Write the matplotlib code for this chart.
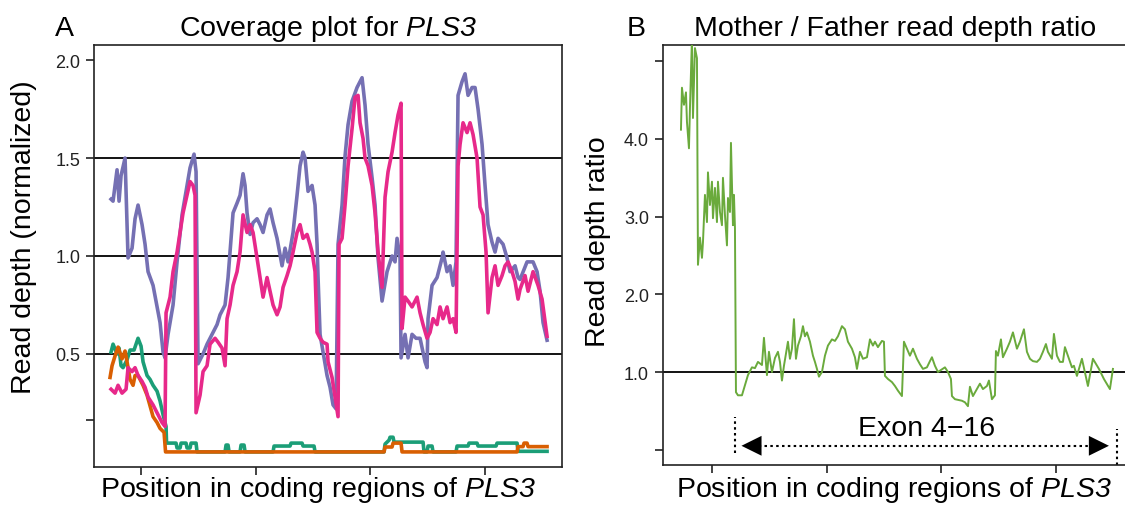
import matplotlib.pyplot as plt

plt.rcParams['font.family'] = ['Liberation Sans', 'DejaVu Sans']
plt.rcParams['mathtext.fontset'] = 'custom'
# math text is only used for the italic gene name, digits included
plt.rcParams['mathtext.rm'] = 'Liberation Sans:italic'
plt.rcParams['mathtext.it'] = 'Liberation Sans:italic'

# ---- panel A: normalized read depth, four samples ----
purple_x = [1, 3, 7, 9, 11, 15, 18, 22, 25, 28, 32, 35, 38, 43, 47, 50, 53, 55, 58, 63,
            67, 72, 77, 80, 84, 86, 88, 93, 97, 102, 107, 110, 115, 118, 123, 127, 130,
            133, 135, 137, 140, 143, 147, 150, 153, 157, 160, 163, 167, 172, 175, 178,
            183, 187, 190, 193, 195, 198, 202, 205, 207, 208, 210, 213, 217, 220, 223,
            226, 228, 232, 235, 238, 242, 247, 252, 255, 258, 262, 265, 268, 272, 277,
            282, 285, 287, 290, 291, 295, 298, 302, 306, 310, 315, 317, 318, 322, 327,
            332, 333, 337, 340, 343, 346, 348, 352, 355, 358, 362, 365, 368, 372, 375,
            378, 382, 385, 388, 393, 397, 400, 405, 408, 410, 417, 423, 427, 430, 433, 437]
purple_y = [1.29, 1.28, 1.44, 1.28, 1.41, 1.50, 0.99, 1.04, 1.19, 1.26, 1.16, 1.06, 0.92,
            0.85, 0.74, 0.66, 0.51, 0.48, 0.60, 0.75, 0.97, 1.21, 1.36, 1.45, 1.52, 1.43,
            0.45, 0.50, 0.55, 0.60, 0.65, 0.70, 0.75, 0.89, 1.22, 1.27, 1.31, 1.42, 1.36,
            1.22, 1.11, 1.17, 1.19, 1.16, 1.12, 1.21, 1.24, 1.17, 1.09, 0.95, 1.04, 0.97,
            1.12, 1.31, 1.46, 1.53, 1.50, 1.33, 1.36, 1.26, 1.06, 0.89, 0.60, 0.51, 0.39,
            0.33, 0.24, 0.22, 1.06, 1.26, 1.51, 1.67, 1.79, 1.86, 1.91, 1.77, 1.57, 1.40,
            1.26, 0.99, 0.77, 0.92, 1.00, 0.97, 1.09, 0.99, 0.48, 0.60, 0.48, 0.60, 0.58,
            0.58, 0.46, 0.43, 0.68, 0.85, 0.89, 0.99, 1.02, 0.92, 0.95, 0.85, 0.97, 1.82,
            1.89, 1.93, 1.82, 1.86, 1.86, 1.75, 1.57, 1.36, 1.16, 1.07, 1.02, 1.09, 1.06,
            0.99, 0.92, 0.95, 0.89, 0.88, 0.97, 0.97, 0.92, 0.82, 0.66, 0.57]

pink_x = [1, 5, 8, 12, 16, 18, 22, 25, 28, 32, 35, 38, 43, 48, 52, 55, 56, 60, 63, 67,
          70, 73, 77, 80, 83, 85, 86, 90, 93, 97, 100, 105, 108, 112, 115, 117, 120, 123,
          127, 130, 133, 137, 140, 143, 147, 150, 153, 157, 160, 163, 167, 170, 173, 177,
          180, 183, 187, 190, 193, 197, 200, 202, 205, 207, 210, 213, 217, 218, 222, 225,
          228, 229, 232, 235, 238, 242, 245, 248, 250, 253, 255, 258, 262, 265, 268, 272,
          275, 278, 282, 285, 288, 291, 292, 295, 298, 302, 303, 307, 310, 313, 317, 320,
          323, 327, 330, 333, 337, 340, 343, 346, 348, 350, 353, 357, 360, 363, 367, 370,
          373, 376, 378, 382, 385, 388, 392, 395, 398, 402, 405, 408, 410, 415, 418, 423,
          428, 432, 437]
pink_y = [0.32, 0.30, 0.34, 0.30, 0.32, 0.43, 0.41, 0.43, 0.39, 0.36, 0.33, 0.28, 0.24,
          0.19, 0.15, 0.13, 0.71, 0.79, 0.92, 1.02, 1.12, 1.22, 1.31, 1.38, 1.36, 1.31,
          0.20, 0.29, 0.41, 0.44, 0.55, 0.58, 0.56, 0.53, 0.44, 0.68, 0.75, 0.85, 0.92,
          1.02, 1.21, 1.12, 1.16, 1.12, 0.99, 0.89, 0.79, 0.89, 0.82, 0.75, 0.70, 0.74,
          0.84, 0.90, 0.95, 1.02, 1.12, 1.16, 1.09, 1.11, 1.06, 1.02, 0.92, 0.61, 0.58,
          0.56, 0.55, 0.46, 0.38, 0.28, 0.18, 1.06, 1.09, 1.26, 1.46, 1.65, 1.81, 1.82,
          1.68, 1.60, 1.50, 1.46, 1.36, 1.22, 1.02, 0.84, 1.30, 1.43, 1.53, 1.63, 1.72,
          1.78, 0.63, 0.79, 0.77, 0.74, 0.75, 0.79, 0.71, 0.65, 0.58, 0.61, 0.68, 0.65,
          0.74, 0.68, 0.74, 0.66, 0.68, 0.61, 1.46, 1.57, 1.68, 1.63, 1.68, 1.62, 1.50,
          1.25, 1.21, 1.02, 0.71, 0.89, 0.95, 0.85, 0.90, 0.95, 0.97, 0.92, 0.87, 0.78,
          0.83, 0.90, 0.82, 0.92, 0.85, 0.78, 0.59]

green_x = [1, 3, 7, 9, 11, 13, 17, 20, 24, 28, 31, 33, 37, 40, 43, 47, 50, 53, 56, 56.5,
           66, 67, 70, 71, 76, 77, 80, 81, 86, 87, 115, 116, 118, 119, 130, 131, 134, 135,
           163, 164, 180, 181, 192, 193, 204, 205, 274, 275, 279, 280, 283, 284, 313, 314,
           317, 318, 322, 323, 346, 347, 358, 359, 367, 368, 386, 387, 407, 408, 437]
green_y = [0.51, 0.55, 0.50, 0.53, 0.44, 0.43, 0.47, 0.52, 0.52, 0.58, 0.54, 0.46, 0.39,
           0.37, 0.34, 0.31, 0.26, 0.19, 0.13, 0.045, 0.045, 0.02, 0.02, 0.045, 0.045,
           0.02, 0.02, 0.045, 0.045, 0.0, 0.0, 0.035, 0.035, 0.0, 0.0, 0.035, 0.035, 0.0,
           0.0, 0.03, 0.03, 0.045, 0.045, 0.03, 0.03, 0.0, 0.0, 0.04, 0.06, 0.075, 0.075,
           0.05, 0.05, 0.0, 0.0, 0.03, 0.03, 0.0, 0.0, 0.03, 0.03, 0.045, 0.045, 0.03,
           0.03, 0.045, 0.045, 0.003, 0.003]

orange_x = [0, 2, 5, 8, 12, 15, 17, 20, 23, 25, 28, 33, 37, 40, 43, 47, 50, 54, 55.5,
            274, 275, 282, 283, 291, 292, 407, 408, 413, 414, 417, 418, 437]
orange_y = [0.38, 0.44, 0.49, 0.535, 0.475, 0.515, 0.46, 0.37, 0.34, 0.39, 0.39, 0.34,
            0.29, 0.235, 0.18, 0.15, 0.12, 0.10, 0.0, 0.0, 0.025, 0.025, 0.045, 0.045,
            0.0, 0.0, 0.027, 0.027, 0.045, 0.045, 0.027, 0.027]

# ---- panel B: mother / father ratio ----
ratio_x = [0, 1, 3, 5, 6, 8, 9, 11, 12, 14, 16, 17, 19, 21, 22, 24, 26, 27, 29, 31, 32,
           34, 36, 37, 39, 41, 42, 44, 46, 47, 49, 50, 52, 53, 54, 55, 57, 61, 64, 67, 71,
           74, 77, 81, 83, 86, 88, 91, 94, 97, 99, 101, 103, 107, 109, 111, 113, 115, 117,
           120, 122, 124, 126, 129, 132, 134, 136, 138, 141, 144, 147, 151, 154, 157, 161,
           164, 167, 171, 174, 176, 179, 182, 186, 189, 192, 194, 197, 201, 203, 204, 207,
           211, 214, 217, 221, 223, 226, 229, 232, 236, 239, 242, 246, 249, 251, 254, 257,
           264, 267, 270, 271, 274, 281, 284, 287, 289, 292, 296, 299, 302, 306, 308, 311,
           314, 315, 317, 320, 322, 326, 329, 332, 336, 339, 343, 346, 349, 352, 356, 359,
           362, 365, 367, 371, 373, 376, 379, 382, 384, 387, 391, 393, 396, 398, 401, 407,
           412, 418, 423, 429, 432]
ratio_y = [4.12, 4.66, 4.44, 4.60, 4.22, 3.88, 4.40, 5.30, 4.27, 5.17, 5.04, 2.38, 2.73,
           2.47, 2.67, 3.28, 2.93, 3.57, 3.15, 3.45, 2.98, 3.37, 2.93, 3.45, 3.06, 2.89,
           3.50, 3.02, 2.63, 3.24, 3.06, 3.95, 2.89, 3.28, 2.85, 0.74, 0.70, 0.70, 0.83,
           0.96, 1.06, 1.05, 1.13, 1.09, 1.44, 0.96, 1.26, 1.00, 1.18, 1.26, 1.13, 0.89,
           1.08, 1.39, 1.17, 1.30, 1.68, 1.17, 1.34, 1.46, 1.59, 1.46, 1.51, 1.39, 1.21,
           1.13, 1.04, 0.94, 1.00, 1.21, 1.34, 1.42, 1.40, 1.46, 1.59, 1.55, 1.39, 1.30,
           1.19, 1.04, 1.26, 1.17, 1.19, 1.42, 1.34, 1.39, 1.32, 1.40, 1.39, 0.95, 0.91,
           0.87, 0.82, 0.76, 0.69, 1.39, 1.30, 1.21, 1.30, 1.17, 1.10, 1.04, 1.06, 1.14,
           1.19, 1.08, 1.00, 1.06, 1.00, 0.91, 0.69, 0.65, 0.63, 0.61, 0.56, 0.81, 0.69,
           0.78, 0.85, 0.78, 0.82, 0.89, 0.65, 0.70, 1.27, 1.21, 1.42, 1.19, 1.30, 1.39,
           1.51, 1.30, 1.39, 1.55, 1.26, 1.17, 1.14, 1.13, 1.17, 1.26, 1.36, 1.26, 1.17,
           1.49, 1.21, 1.13, 1.13, 1.32, 1.21, 1.06, 1.08, 0.95, 1.04, 1.17, 0.82, 1.17,
           1.04, 0.91, 0.78, 1.04]

exon_start, exon_end = 54.5, 436
x_ticks = [31, 146, 260, 375]

fig = plt.figure(figsize=(11.25, 5.06), dpi=100)
axA = fig.add_axes([0.0836, 0.0751, 0.416, 0.834])
axB = fig.add_axes([0.5893, 0.0791, 0.4133, 0.830])

# panel A
axA.plot(purple_x, purple_y, color='#7570b3', lw=2.6, zorder=3)
axA.plot(green_x, green_y, color='#1b9e77', lw=2.6, zorder=3)
axA.plot(orange_x, orange_y, color='#d95f02', lw=2.6, zorder=3)
axA.plot(pink_x, pink_y, color='#e7298a', lw=2.6, zorder=4)
for h in [0.5, 1.0, 1.5]:
    axA.axhline(h, color='black', lw=1.3, zorder=2)
axA.set_xlim(-16, 452)
axA.set_ylim(-0.077, 2.077)
axA.set_yticks([0.165, 0.5, 1.0, 1.5, 2.0])
axA.set_yticklabels(['', '0.5', '1.0', '1.5', '2.0'])
axA.set_title(r'Coverage plot for $PLS3$', fontsize=20.5, pad=7)

# panel B
axB.plot(ratio_x, ratio_y, color='#6aaa3c', lw=1.4, zorder=3)
axB.axhline(1.0, color='black', lw=1.3, zorder=2)
axB.set_xlim(-18, 447)
axB.set_ylim(-0.197, 5.21)
axB.set_yticks([0, 1, 2, 3, 4, 5])
axB.set_yticklabels(['', '1.0', '2.0', '3.0', '4.0', ''])
axB.set_title('Mother / Father read depth ratio', fontsize=20.5, pad=7)

dot = (0, (1.2, 1.6))
axB.plot([exon_start, exon_start], [-0.04, 0.42], color='black', lw=1.5, ls=dot)
axB.plot([exon_end, exon_end], [-0.2, 0.27], color='black', lw=1.5, ls=dot, clip_on=False)
axB.plot([exon_start + 12, exon_end - 14], [0.05, 0.05], color='black', lw=1.5, ls=dot)
head = '-|>,head_length=0.85,head_width=0.42'
axB.annotate('', xy=(exon_start + 6, 0.05), xytext=(exon_start + 24, 0.05),
             arrowprops=dict(arrowstyle=head, color='black', lw=0,
                             shrinkA=0, shrinkB=0, mutation_scale=17))
axB.annotate('', xy=(exon_end - 8, 0.05), xytext=(exon_end - 26, 0.05),
             arrowprops=dict(arrowstyle=head, color='black', lw=0,
                             shrinkA=0, shrinkB=0, mutation_scale=17))
axB.text((exon_start + exon_end) / 2, 0.28, 'Exon 4\u221216', fontsize=20.5,
         ha='center', va='center')

for ax in (axA, axB):
    ax.set_xticks(x_ticks)
    ax.set_xticklabels([])
    ax.tick_params(length=6, width=1.2, pad=4, labelsize=13, colors='#222222')
    for s in ax.spines.values():
        s.set_linewidth(1.2)
        s.set_color('#222222')

fig.text(0.0569, 0.9289, 'A', fontsize=20.5, ha='center', va='baseline')
fig.text(0.5653, 0.9289, 'B', fontsize=20.5, ha='center', va='baseline')
fig.text(0.2827, 0.018, r'Position in coding regions of $PLS3$', fontsize=20.5,
         ha='center', va='baseline')
fig.text(0.7947, 0.018, r'Position in coding regions of $PLS3$', fontsize=20.5,
         ha='center', va='baseline')
fig.text(0.0213, 0.5316, 'Read depth (normalized)', fontsize=20.5, rotation=90,
         ha='center', va='center')
fig.text(0.5316, 0.5217, 'Read depth ratio', fontsize=20.5, rotation=90,
         ha='center', va='center')

fig.savefig('out.png', dpi=100)
